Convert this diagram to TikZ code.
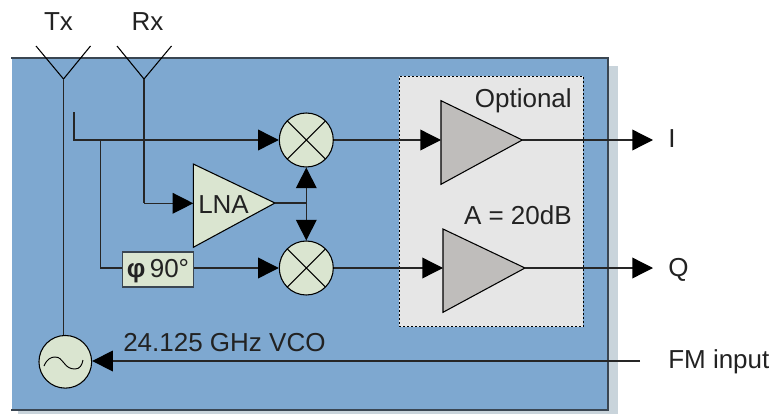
\documentclass[tikz,border=0pt]{standalone}
\usepackage{fontspec}
\setmainfont{Liberation Sans}
\usetikzlibrary{arrows.meta}
\definecolor{panelblue}{HTML}{7EA8D0}
\definecolor{panelshadow}{HTML}{C9D4DB}
\definecolor{palegreen}{HTML}{DAE5D0}
\definecolor{ampgray}{HTML}{BFBDBB}
\definecolor{optbg}{HTML}{E6E6E6}
\definecolor{rimline}{HTML}{3A4652}
\definecolor{ink}{HTML}{222222}
\tikzset{
  wire/.style={line width=1pt,draw=black!85},
  sig/.style={wire,-{Triangle[length=15.5pt,width=15.5pt,color=black]}},
  txt/.style={inner sep=0pt,text=ink,font=\fontsize{19.5pt}{21pt}\selectfont},
  tri/.style={draw=black,line width=0.8pt,line join=miter},
  mixer/.style={shape=circle,draw=black,fill=palegreen,line width=0.8pt,inner sep=0pt,minimum size=40.5pt,
    path picture={\draw[line width=0.8pt] (path picture bounding box.north west)--(path picture bounding box.south east)
      (path picture bounding box.north east)--(path picture bounding box.south west);}},
  osc/.style={shape=circle,draw=black,fill=palegreen,line width=0.8pt,inner sep=0pt,minimum size=39.5pt},
  aerial/.style={line width=0.8pt,draw=black}
}
\begin{document}
\begin{tikzpicture}[x=0.75pt,y=-0.75pt]
\useasboundingbox (0,0) rectangle (782,414);
% panel and its shadow
\fill[panelshadow] (18,66) rectangle (617.7,417);
\fill[panelblue] (11.5,58) rectangle (608,410);
\draw[rimline,line width=1.1pt] (11,58)--(608,58)--(608,410)--(11,410);
% optional region
\node[draw=black,dash pattern=on 1.5pt off 1.5pt,fill=optbg,line width=0.7pt,minimum width=138pt,minimum height=187.8pt,inner sep=0pt,anchor=north west] (opt) at (399,75.7) {};
% antennas
\coordinate (txtip) at (63.5,79);
\coordinate (rxtip) at (144,79);
\coordinate (txl) at (36,46); \coordinate (txr) at (90.5,46);
\coordinate (rxl) at (117,46); \coordinate (rxr) at (171.5,46);
\draw[aerial] (txl)--(txtip)--(txr);
\draw[aerial] (rxl)--(rxtip)--(rxr);
% blocks
\node[mixer] (m1) at (306.3,140) {};
\node[mixer] (m2) at (306.3,268) {};
\coordinate (lnaT) at (193.3,164);
\coordinate (lnaB) at (193.3,247.3);
\coordinate (lnaA) at (275,203);
\coordinate (a1T) at (441,100.7);
\coordinate (a1B) at (441,184.3);
\coordinate (a1A) at (522.3,140);
\coordinate (a2T) at (443,229);
\coordinate (a2B) at (443,312.3);
\coordinate (a2A) at (525,268);
\draw[tri,fill=palegreen] (lnaT)--(lnaB)--(lnaA)--cycle;
\draw[tri,fill=ampgray] (a1T)--(a1B)--(a1A)--cycle;
\draw[tri,fill=ampgray] (a2T)--(a2B)--(a2A)--cycle;
\node[draw=rimline,fill=palegreen,line width=0.9pt,minimum width=53.2pt,minimum height=26.2pt,inner sep=0pt] (ph) at (158,269.5) {};
\node[osc] (vco) at (65.3,361.8) {};
\draw[line width=0.7pt,draw=black] (44,366) .. controls (47,359) and (51,357) .. (55,357) .. controls (60,357) and (61,360) .. (64,363) .. controls (67,367) and (70,369) .. (75,369) .. controls (80,369) and (82,365) .. (83,360);
% free ends
\coordinate (stub) at (74,112);
\coordinate (corner) at (74,140);
\coordinate (tap) at (100.3,140);
\coordinate (tapb) at (100.3,268);
\coordinate (rxb) at (144,203.3);
\coordinate (lo) at (306.3,203);
\coordinate (iout) at (653,140);
\coordinate (qout) at (653,268);
\coordinate (fm) at (640,361);
% connectors
\draw[wire] (txtip)--(txtip|-vco.north);
\draw[sig] (stub)--(corner)--(m1.west);
\draw[wire] (tap)--(tapb)--(tapb-|ph.west);
\draw[sig] (tapb-|ph.east)--(m2.west);
\draw[wire] (rxtip)--(rxb);
\draw[sig] (rxb)--(rxb-|lnaT);
\draw[wire] (lnaA)--(lo);
\draw[sig] (lo)--(m1.south);
\draw[sig] (lo)--(m2.north);
\draw[sig] (m1.east)--(m1.east-|a1T);
\draw[sig] (m2.east)--(m2.east-|a2T);
\draw[sig] (a1A)--(iout);
\draw[sig] (a2A)--(qout);
\draw[sig] (fm)--(vco.east|-fm);
% labels
\node[txt,anchor=base] (tx) at (58.5,31) {Tx};
\node[txt,anchor=base] (rx) at (147.5,31) {Rx};
\node[txt,anchor=base east] (optl) at (572,107) {Optional};
\node[txt,anchor=base east] (gain) at (572,224) {A = 20dB};
\node[txt,anchor=base west] (lnal) at (198,213) {LNA};
\node[txt,anchor=base] (phl) at (158,277.5) {\textbf{φ}\,90°};
\node[txt,anchor=base west] (il) at (668,147) {I};
\node[txt,anchor=base west] (ql) at (668,276) {Q};
\node[txt,anchor=base west] (fml) at (668,368) {FM input};
\node[txt,anchor=base west] (vcol) at (123,351) {24.125 GHz VCO};
\end{tikzpicture}
\end{document}
